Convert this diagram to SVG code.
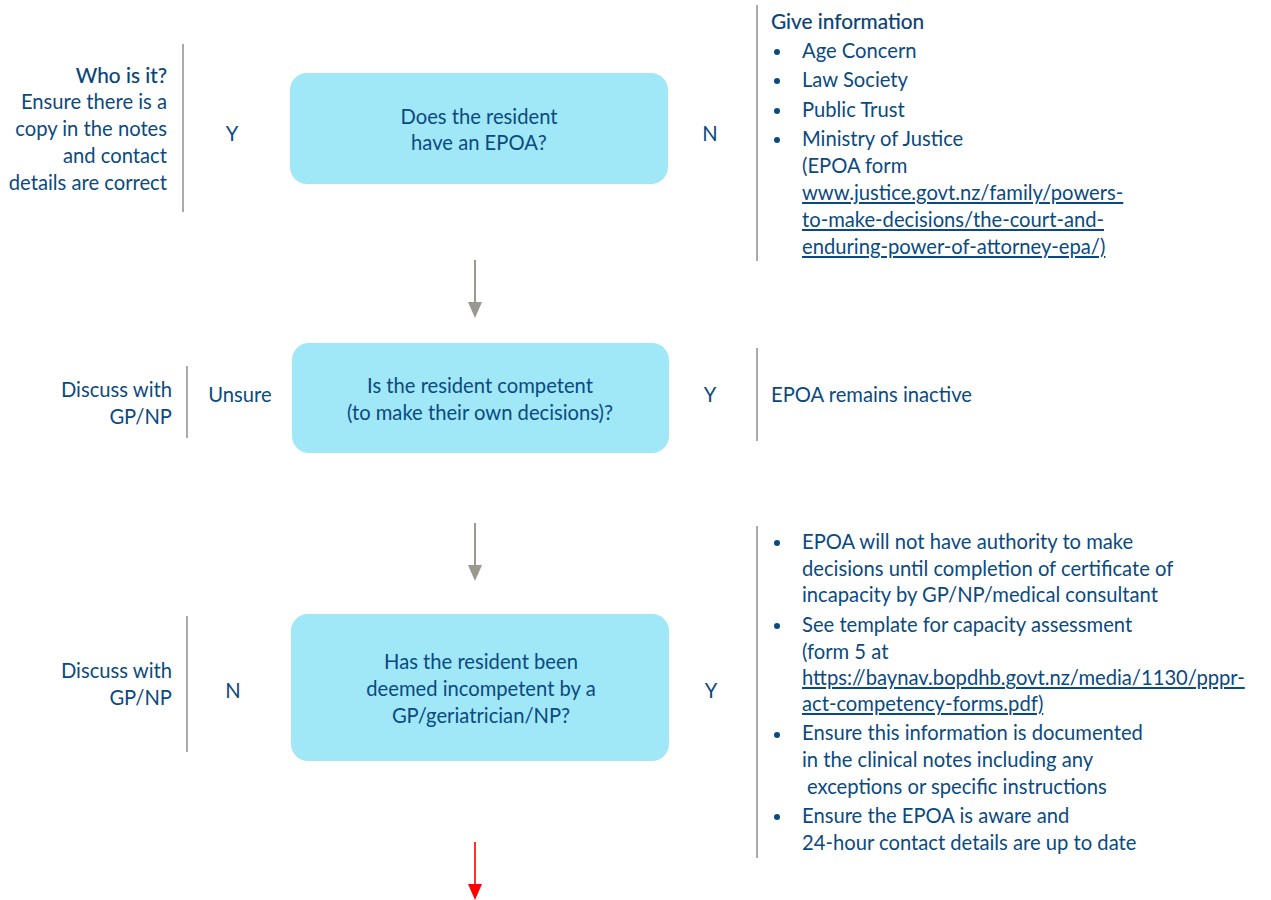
<svg xmlns="http://www.w3.org/2000/svg" width="1271" height="900" viewBox="0 0 1271 900">
<style>
text{font-family:Lato,"Open Sans","Liberation Sans",sans-serif;font-size:20.2px;fill:#0b4a80}
.r{text-anchor:end}
.c{text-anchor:middle}
.u{text-decoration:underline}
.h{font-size:20.8px;fill:#074277;stroke:#074277;stroke-width:0.2px}
.box{fill:#a0e7f8}
.sep{stroke:#aaaaa6;stroke-width:2}
.bul{fill:#0b4a80}
</style>
<g id="connectors">
<line x1="475" y1="260" x2="475" y2="302" stroke="#999990" stroke-width="2"/>
<path d="M468,302L482,302L475,318Z" fill="#999990"/>
<line x1="475" y1="523" x2="475" y2="565" stroke="#999990" stroke-width="2"/>
<path d="M468,565L482,565L475,581Z" fill="#999990"/>
<line x1="475" y1="842" x2="475" y2="884" stroke="#ff3030" stroke-width="2"/>
<path d="M468,884L482,884L475,900Z" fill="#ff0000"/>
</g>
<g id="separators">
<line class="sep" x1="183" y1="44" x2="183" y2="212"/>
<line class="sep" x1="757" y1="5" x2="757" y2="261"/>
<line class="sep" x1="187" y1="366" x2="187" y2="438"/>
<line class="sep" x1="757" y1="348" x2="757" y2="441"/>
<line class="sep" x1="187" y1="616" x2="187" y2="752"/>
<line class="sep" x1="757" y1="526" x2="757" y2="858"/>
</g>
<g id="node1">
<rect class="box" x="290" y="73" width="378" height="111" rx="17"/>
<text class="c" x="479" y="124">Does the resident</text>
<text class="c" x="479" y="150">have an EPOA?</text>
</g>
<g id="node1-left">
<text class="r h" x="167" y="83">Who is it?</text>
<text class="r" x="167" y="109">Ensure there is a</text>
<text class="r" x="167" y="136">copy in the notes</text>
<text class="r" x="167" y="163">and contact</text>
<text class="r" x="167" y="190">details are correct</text>
<text class="c" x="232" y="141">Y</text>
</g>
<g id="node1-right">
<text class="c" x="710" y="141">N</text>
<text class="h" x="771" y="29">Give information</text>
<circle class="bul" cx="777" cy="52" r="3"/>
<circle class="bul" cx="777" cy="81" r="3"/>
<circle class="bul" cx="777" cy="111" r="3"/>
<circle class="bul" cx="777" cy="140" r="3"/>
<text x="802" y="58">Age Concern</text>
<text x="802" y="87">Law Society</text>
<text x="802" y="117">Public Trust</text>
<text x="802" y="146">Ministry of Justice</text>
<text x="802" y="173">(EPOA form</text>
<text class="u" x="802" y="200">www.justice.govt.nz/family/powers-</text>
<text class="u" x="802" y="227">to-make-decisions/the-court-and-</text>
<text class="u" x="802" y="254">enduring-power-of-attorney-epa/)</text>
</g>
<g id="node2">
<rect class="box" x="292" y="343" width="377" height="110" rx="17"/>
<text class="c" x="480" y="393">Is the resident competent</text>
<text class="c" x="480" y="420">(to make their own decisions)?</text>
</g>
<g id="node2-left">
<text class="r" x="172" y="397">Discuss with</text>
<text class="r" x="172" y="424">GP/NP</text>
<text class="c" x="240" y="402">Unsure</text>
</g>
<g id="node2-right">
<text class="c" x="710" y="402">Y</text>
<text x="771" y="402">EPOA remains inactive</text>
</g>
<g id="node3">
<rect class="box" x="291" y="614" width="378" height="147" rx="17"/>
<text class="c" x="481" y="669">Has the resident been</text>
<text class="c" x="481" y="696">deemed incompetent by a</text>
<text class="c" x="481" y="723">GP/geriatrician/NP?</text>
</g>
<g id="node3-left">
<text class="r" x="172" y="678">Discuss with</text>
<text class="r" x="172" y="705">GP/NP</text>
<text class="c" x="233" y="698">N</text>
</g>
<g id="node3-right">
<text class="c" x="711" y="698">Y</text>
<circle class="bul" cx="777" cy="543" r="3"/>
<circle class="bul" cx="777" cy="626" r="3"/>
<circle class="bul" cx="777" cy="735" r="3"/>
<circle class="bul" cx="777" cy="817" r="3"/>
<text x="802" y="549">EPOA will not have authority to make</text>
<text x="802" y="576">decisions until completion of certificate of</text>
<text x="802" y="602">incapacity by GP/NP/medical consultant</text>
<text x="802" y="632">See template for capacity assessment</text>
<text x="802" y="659">(form 5 at</text>
<text class="u" x="802" y="685">https://baynav.bopdhb.govt.nz/media/1130/pppr-</text>
<text class="u" x="802" y="711">act-competency-forms.pdf)</text>
<text x="802" y="740">Ensure this information is documented</text>
<text x="802" y="767">in the clinical notes including any</text>
<text x="807" y="794">exceptions or specific instructions</text>
<text x="802" y="823">Ensure the EPOA is aware and</text>
<text x="802" y="850">24-hour contact details are up to date</text>
</g>
</svg>
